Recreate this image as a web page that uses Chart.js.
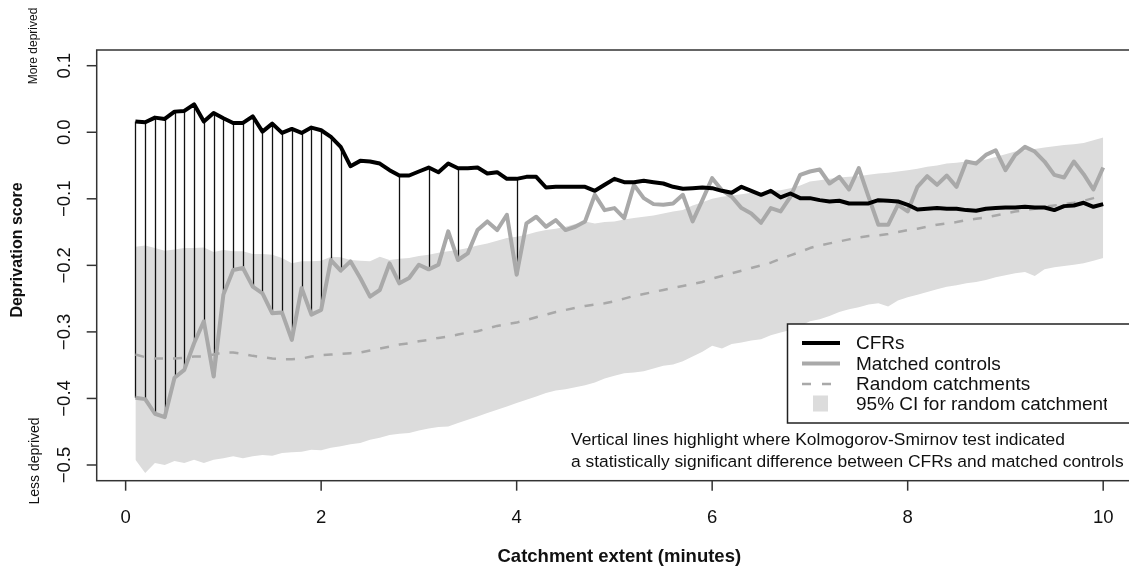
<!DOCTYPE html>
<html>
<head>
<meta charset="utf-8">
<script src="https://cdn.jsdelivr.net/npm/chart.js"></script>
<style>
  html, body { margin: 0; padding: 0; background: #fff; }
  #wrap { width: 1129px; height: 572px; overflow: hidden; position: relative; }
  canvas { display: block; }
</style>
</head>
<body>
<div id="wrap"><canvas id="depChart" width="1146" height="572"></canvas></div>
<script>
// catchment extent (minutes)
const extent = [0.1,0.2,0.3,0.4,0.5,0.6,0.7,0.8,0.9,1.0,1.1,1.2,1.3,1.4,1.5,1.6,1.7,1.8,1.9,2.0,
  2.1,2.2,2.3,2.4,2.5,2.6,2.7,2.8,2.9,3.0,3.1,3.2,3.3,3.4,3.5,3.6,3.7,3.8,3.9,4.0,
  4.1,4.2,4.3,4.4,4.5,4.6,4.7,4.8,4.9,5.0,5.1,5.2,5.3,5.4,5.5,5.6,5.7,5.8,5.9,6.0,
  6.1,6.2,6.3,6.4,6.5,6.6,6.7,6.8,6.9,7.0,7.1,7.2,7.3,7.4,7.5,7.6,7.7,7.8,7.9,8.0,
  8.1,8.2,8.3,8.4,8.5,8.6,8.7,8.8,8.9,9.0,9.1,9.2,9.3,9.4,9.5,9.6,9.7,9.8,9.9,10.0];

const cfrs = [0.016,0.015,0.022,0.020,0.031,0.032,0.042,0.016,0.029,0.021,
  0.014,0.014,0.024,0.001,0.013,-0.001,0.005,-0.001,0.007,0.003,
  -0.007,-0.022,-0.051,-0.043,-0.044,-0.047,-0.057,-0.065,-0.065,-0.059,
  -0.053,-0.060,-0.047,-0.054,-0.054,-0.053,-0.062,-0.060,-0.070,-0.070,
  -0.067,-0.067,-0.083,-0.082,-0.082,-0.082,-0.082,-0.088,-0.079,-0.070,
  -0.075,-0.075,-0.073,-0.075,-0.077,-0.082,-0.085,-0.084,-0.083,-0.084,
  -0.088,-0.091,-0.082,-0.088,-0.094,-0.088,-0.098,-0.092,-0.099,-0.099,
  -0.102,-0.104,-0.103,-0.107,-0.107,-0.107,-0.102,-0.103,-0.104,-0.109,
  -0.116,-0.115,-0.114,-0.115,-0.115,-0.117,-0.118,-0.115,-0.114,-0.113,
  -0.113,-0.112,-0.113,-0.113,-0.117,-0.111,-0.110,-0.106,-0.112,-0.108];

const matched = [-0.399,-0.401,-0.423,-0.428,-0.369,-0.357,-0.317,-0.284,-0.367,-0.244,
  -0.207,-0.204,-0.232,-0.242,-0.272,-0.271,-0.312,-0.234,-0.274,-0.267,
  -0.192,-0.208,-0.194,-0.219,-0.247,-0.237,-0.197,-0.227,-0.219,-0.199,
  -0.206,-0.199,-0.149,-0.192,-0.182,-0.147,-0.134,-0.147,-0.124,-0.214,
  -0.137,-0.127,-0.142,-0.132,-0.147,-0.142,-0.134,-0.094,-0.117,-0.114,
  -0.129,-0.079,-0.099,-0.108,-0.109,-0.107,-0.094,-0.134,-0.102,-0.069,
  -0.087,-0.097,-0.114,-0.122,-0.136,-0.114,-0.119,-0.097,-0.064,-0.059,
  -0.056,-0.077,-0.067,-0.086,-0.054,-0.097,-0.139,-0.139,-0.109,-0.119,
  -0.082,-0.066,-0.079,-0.065,-0.082,-0.044,-0.047,-0.034,-0.027,-0.057,
  -0.034,-0.022,-0.029,-0.044,-0.064,-0.068,-0.044,-0.063,-0.086,-0.053];

const randomMean = [-0.334,-0.338,-0.340,-0.340,-0.340,-0.339,-0.337,-0.337,-0.334,-0.331,
  -0.331,-0.333,-0.336,-0.338,-0.340,-0.341,-0.341,-0.340,-0.337,-0.335,
  -0.334,-0.333,-0.332,-0.331,-0.328,-0.325,-0.322,-0.319,-0.317,-0.314,
  -0.312,-0.309,-0.307,-0.304,-0.301,-0.299,-0.295,-0.291,-0.288,-0.286,
  -0.282,-0.278,-0.274,-0.270,-0.267,-0.264,-0.261,-0.259,-0.257,-0.254,
  -0.250,-0.246,-0.243,-0.240,-0.237,-0.234,-0.231,-0.228,-0.225,-0.220,
  -0.216,-0.212,-0.208,-0.204,-0.200,-0.196,-0.190,-0.185,-0.180,-0.174,
  -0.170,-0.167,-0.164,-0.161,-0.158,-0.156,-0.155,-0.153,-0.150,-0.147,
  -0.145,-0.142,-0.139,-0.137,-0.135,-0.132,-0.130,-0.128,-0.125,-0.122,
  -0.119,-0.117,-0.115,-0.112,-0.110,-0.108,-0.106,-0.103,-0.099,-0.094];

const ciUpper = [-0.172,-0.170,-0.174,-0.178,-0.176,-0.174,-0.174,-0.173,-0.180,-0.177,
  -0.179,-0.179,-0.183,-0.183,-0.184,-0.189,-0.197,-0.194,-0.194,-0.193,
  -0.187,-0.188,-0.192,-0.193,-0.194,-0.187,-0.192,-0.190,-0.189,-0.186,
  -0.184,-0.181,-0.179,-0.177,-0.174,-0.170,-0.167,-0.163,-0.159,-0.157,
  -0.154,-0.150,-0.147,-0.145,-0.142,-0.138,-0.134,-0.137,-0.135,-0.134,
  -0.131,-0.129,-0.127,-0.125,-0.122,-0.119,-0.117,-0.110,-0.105,-0.100,
  -0.097,-0.095,-0.093,-0.091,-0.090,-0.088,-0.087,-0.084,-0.080,-0.074,
  -0.072,-0.070,-0.068,-0.067,-0.066,-0.064,-0.062,-0.061,-0.059,-0.057,
  -0.055,-0.052,-0.050,-0.047,-0.046,-0.044,-0.043,-0.041,-0.037,-0.033,
  -0.029,-0.027,-0.025,-0.023,-0.021,-0.019,-0.018,-0.016,-0.012,-0.008];

const ciLower = [-0.492,-0.512,-0.497,-0.500,-0.494,-0.497,-0.492,-0.497,-0.492,-0.490,
  -0.487,-0.490,-0.487,-0.485,-0.486,-0.482,-0.481,-0.480,-0.477,-0.478,
  -0.474,-0.472,-0.469,-0.467,-0.462,-0.459,-0.455,-0.453,-0.452,-0.448,
  -0.445,-0.443,-0.442,-0.437,-0.432,-0.427,-0.422,-0.417,-0.412,-0.407,
  -0.402,-0.397,-0.392,-0.388,-0.386,-0.383,-0.380,-0.376,-0.370,-0.366,
  -0.362,-0.361,-0.359,-0.355,-0.351,-0.349,-0.344,-0.337,-0.330,-0.321,
  -0.325,-0.318,-0.316,-0.313,-0.311,-0.305,-0.301,-0.297,-0.291,-0.284,
  -0.281,-0.276,-0.270,-0.266,-0.263,-0.259,-0.257,-0.262,-0.253,-0.248,
  -0.244,-0.240,-0.236,-0.232,-0.230,-0.227,-0.225,-0.222,-0.218,-0.215,
  -0.212,-0.210,-0.216,-0.206,-0.203,-0.201,-0.199,-0.197,-0.193,-0.189];

// where the KS test was significant
const ksSignificant = [0.1,0.2,0.3,0.4,0.5,0.6,0.7,0.8,0.9,1.0,1.1,1.2,1.3,1.4,1.5,1.6,1.7,1.8,1.9,2.0,2.1,2.2,2.8,3.1,3.4,4.0];

const xTicks = [0, 2, 4, 6, 8, 10];
const yTicks = [0.1, 0, -0.1, -0.2, -0.3, -0.4, -0.5];
const yTickLabels = ['0.1', '0.0', '\u22120.1', '\u22120.2', '\u22120.3', '\u22120.4', '\u22120.5'];

const FONT = '"Liberation Sans", Arial, Helvetica, sans-serif';
const BAND = '#dcdcdc';
const GREY = '#a9a9a9';

const pts = (arr) => extent.map((x, i) => ({ x: x, y: arr[i] }));

// vertical KS lines, drawn just above the CI band
const ksLines = {
  id: 'ksLines',
  afterDatasetDraw(chart, args) {
    if (args.index !== 3) return;
    const { ctx, scales: { x, y } } = chart;
    ctx.save();
    ctx.strokeStyle = '#111';
    ctx.lineWidth = 1.3;
    ksSignificant.forEach(v => {
      const i = extent.findIndex(e => Math.abs(e - v) < 1e-6);
      const px = Math.round(x.getPixelForValue(v)) + 0.5;
      ctx.beginPath();
      ctx.moveTo(px, y.getPixelForValue(cfrs[i]));
      ctx.lineTo(px, y.getPixelForValue(matched[i]));
      ctx.stroke();
    });
    ctx.restore();
  }
};

// R-style frame, axes, legend and note
const frame = {
  id: 'frame',
  afterDraw(chart) {
    const { ctx, chartArea: a, scales: { x, y } } = chart;
    ctx.save();
    ctx.strokeStyle = '#333';
    ctx.lineWidth = 1.5;
    ctx.strokeRect(a.left, a.top, a.right - a.left, a.bottom - a.top);

    // x axis
    ctx.fillStyle = '#111';
    ctx.font = '18.5px ' + FONT;
    ctx.textAlign = 'center';
    ctx.textBaseline = 'middle';
    xTicks.forEach(t => {
      const px = x.getPixelForValue(t);
      ctx.beginPath();
      ctx.moveTo(px, a.bottom);
      ctx.lineTo(px, a.bottom + 10);
      ctx.stroke();
      ctx.fillText(String(t), px, 518);
    });
    ctx.font = 'bold 18.5px ' + FONT;
    ctx.fillText('Catchment extent (minutes)', (a.left + a.right) / 2, 557);

    // y axis
    yTicks.forEach((t, i) => {
      const py = y.getPixelForValue(t);
      ctx.beginPath();
      ctx.moveTo(a.left, py);
      ctx.lineTo(a.left - 10, py);
      ctx.stroke();
      ctx.save();
      ctx.translate(65, py);
      ctx.rotate(-Math.PI / 2);
      ctx.font = '18.5px ' + FONT;
      ctx.fillText(yTickLabels[i], 0, 0);
      ctx.restore();
    });
    const vText = (txt, px, py, font) => {
      ctx.save();
      ctx.translate(px, py);
      ctx.rotate(-Math.PI / 2);
      ctx.font = font;
      ctx.fillText(txt, 0, 0);
      ctx.restore();
    };
    vText('Deprivation score', 18, 250, 'bold 16px ' + FONT);
    vText('More deprived', 34, 46, '12px ' + FONT);
    vText('Less deprived', 35, 461, '14px ' + FONT);

    // legend
    const lx = 787.5, ly = 324, lh = 99;
    ctx.fillStyle = '#fff';
    ctx.fillRect(lx, ly, a.right - lx, lh);
    ctx.strokeStyle = '#222';
    ctx.lineWidth = 1.5;
    ctx.strokeRect(lx, ly, a.right - lx, lh);
    const rows = [343, 363.5, 384, 403.5];
    const items = chart.data.datasets;
    ctx.lineCap = 'butt';
    ctx.strokeStyle = '#000'; ctx.lineWidth = 4;
    ctx.beginPath(); ctx.moveTo(802, rows[0]); ctx.lineTo(840, rows[0]); ctx.stroke();
    ctx.strokeStyle = GREY;
    ctx.beginPath(); ctx.moveTo(802, rows[1]); ctx.lineTo(840, rows[1]); ctx.stroke();
    ctx.lineWidth = 2.5; ctx.setLineDash([9, 11]);
    ctx.beginPath(); ctx.moveTo(802, rows[2]); ctx.lineTo(840, rows[2]); ctx.stroke();
    ctx.setLineDash([]);
    ctx.fillStyle = BAND;
    ctx.fillRect(813, rows[3] - 8, 15, 16);
    ctx.save();
    ctx.beginPath();
    ctx.rect(lx, ly, 1107 - lx, lh);
    ctx.clip();
    ctx.fillStyle = '#111';
    ctx.font = '19px ' + FONT;
    ctx.textAlign = 'left';
    [items[0].label, items[1].label, items[2].label, items[3].label].forEach((lab, i) => {
      ctx.fillText(lab, 856, rows[i] + 1);
    });
    ctx.restore();

    // note
    ctx.fillStyle = '#111';
    ctx.textAlign = 'left';
    ctx.font = '17.4px ' + FONT;
    ctx.fillText('Vertical lines highlight where Kolmogorov-Smirnov test indicated', 571, 440);
    ctx.fillText('a statistically significant difference between CFRs and matched controls', 571, 462);
    ctx.restore();
  }
};

new Chart(document.getElementById('depChart'), {
  type: 'line',
  data: {
    datasets: [
      { label: 'CFRs', data: pts(cfrs), borderColor: '#000', borderWidth: 4, order: 0 },
      { label: 'Matched controls', data: pts(matched), borderColor: GREY, borderWidth: 4, order: 1 },
      { label: 'Random catchments', data: pts(randomMean), borderColor: '#a8a8a8', borderWidth: 2.5, borderDash: [9, 10], order: 2 },
      { label: '95% CI for random catchment', data: pts(ciUpper), borderWidth: 0, borderColor: BAND, backgroundColor: BAND, fill: '+1', order: 3 },
      { label: 'CI lower', data: pts(ciLower), borderWidth: 0, borderColor: BAND, fill: false, order: 4 }
    ]
  },
  options: {
    responsive: false,
    animation: false,
    layout: { padding: { left: 96.7, top: 50, right: 4.1, bottom: 91.3 } },
    elements: { point: { radius: 0 }, line: { tension: 0, borderJoinStyle: 'round' } },
    scales: {
      x: { type: 'linear', min: -0.296, max: 10.396, display: false },
      y: { type: 'linear', min: -0.5236, max: 0.1236, display: false }
    },
    plugins: { legend: { display: false }, tooltip: { enabled: false } }
  },
  plugins: [ksLines, frame]
});
</script>
</body>
</html>
